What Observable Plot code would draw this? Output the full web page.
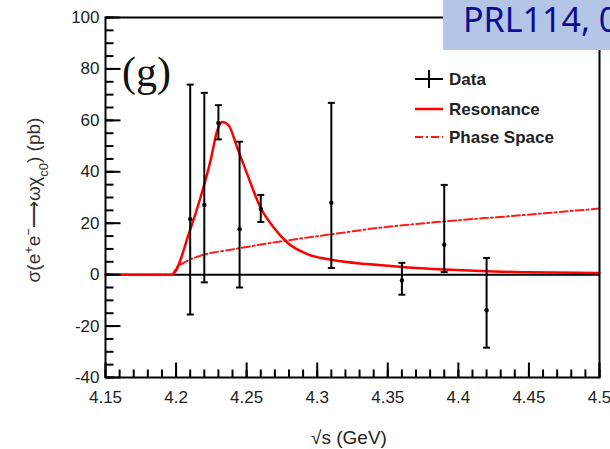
<!DOCTYPE html>
<html><head><meta charset="utf-8">
<script src="https://cdn.jsdelivr.net/npm/d3@7"></script>
<script src="https://cdn.jsdelivr.net/npm/@observablehq/plot@0.6"></script>
<style>
body{margin:0;background:#fff;overflow:hidden;}
#wrap{position:relative;width:610px;height:449px;overflow:hidden;}
#badge{position:absolute;left:443px;top:0;width:220px;height:50px;background:#b4c6e7;color:#0d0d8f;font-family:"Noto Sans";font-size:34px;line-height:38px;padding-left:20px;white-space:nowrap;box-sizing:border-box;}
</style></head>
<body><div id="wrap"><div id="badge">PRL114, 092003</div></div>
<script>
// Measured data points
const energy   = [4.21, 4.22, 4.23, 4.245, 4.26, 4.31, 4.36, 4.39, 4.42];
const sigma    = [21.6, 27.1, 59.0, 17.7, 25.5, 28.0, -2.3, 11.6, -13.8];
const sigmaHi  = [73.9, 70.7, 65.9, 51.7, 31.0, 66.8, 4.6, 34.9, 6.5];
const sigmaLo  = [-15.5, -3.0, 52.6, -5.0, 20.5, 2.6, -7.8, 1.0, -28.4];

// Resonance fit curve
const resX = [4.15, 4.197, 4.2097, 4.2173, 4.2244, 4.2291, 4.2327, 4.2374, 4.2433, 4.2504, 4.2598, 4.2692, 4.2787, 4.2929, 4.3118, 4.3354, 4.36, 4.39, 4.42, 4.45, 4.5];
const resY = [0, 0, 17.0, 30.0, 44.3, 55.9, 59.4, 57.9, 49.4, 39.1, 26.1, 18.3, 12.5, 8.0, 5.6, 4.1, 3.0, 2.0, 1.3, 0.9, 0.6];

// Phase space curve
const phsX = [4.15, 4.197, 4.2, 4.205, 4.217, 4.241, 4.274, 4.31, 4.345, 4.39, 4.44, 4.5];
const phsY = [0, 0, 2.5, 4.5, 7.3, 9.9, 12.9, 15.7, 18.3, 20.7, 22.9, 25.7];

// Axes ticks
const xMajor = [4.15, 4.2, 4.25, 4.3, 4.35, 4.4, 4.45, 4.5];
const xMinor = d3.range(0, 36).map(i => +(4.15 + i * 0.01).toFixed(2));
const yMajor = [-40, -20, 0, 20, 40, 60, 80, 100];
const yMinor = d3.range(-40, 101, 5);

const points = energy.map((e, i) => ({x: e, y: sigma[i], hi: sigmaHi[i], lo: sigmaLo[i]}));
const res = resX.map((x, i) => ({x, y: resY[i]}));
const phs = phsX.map((x, i) => ({x, y: phsY[i]}));

const W = 610, H = 449, mL = 105, mR = 11, mT = 17, mB = 72;

const cap = {draw(ctx, size) { const w = Math.sqrt(size / Math.PI); ctx.moveTo(-w, 0); ctx.lineTo(w, 0); }};
const tickRight = {draw(ctx, size) { const w = Math.sqrt(size / Math.PI); ctx.moveTo(0, 0); ctx.lineTo(w, 0); }};
const tickUp = {draw(ctx, size) { const w = Math.sqrt(size / Math.PI); ctx.moveTo(0, 0); ctx.lineTo(0, -w); }};

const chart = Plot.plot({
  width: W, height: H,
  marginLeft: mL, marginRight: mR, marginTop: mT, marginBottom: mB,
  x: {domain: [4.15, 4.5]},
  y: {domain: [-40, 100]},
  style: {fontFamily: "Liberation Sans, Arial, sans-serif", fontSize: "17px", color: "#222", background: "white"},
  marks: [
    Plot.ruleY([0], {stroke: "black", strokeWidth: 2}),
    Plot.line(phs, {x: "x", y: "y", curve: "monotone-x", stroke: "#ff1a1a", strokeWidth: 2, strokeDasharray: "8,3,2,3"}),
    Plot.line(res, {x: "x", y: "y", curve: "monotone-x", stroke: "#ff0000", strokeWidth: 2.5}),
    Plot.ruleX(points, {x: "x", y1: "lo", y2: "hi", stroke: "black", strokeWidth: 2}),
    Plot.dot(points, {x: "x", y: "hi", symbol: cap, r: 3.5, stroke: "black", strokeWidth: 2}),
    Plot.dot(points, {x: "x", y: "lo", symbol: cap, r: 3.5, stroke: "black", strokeWidth: 2}),
    Plot.dot(points, {x: "x", y: "y", r: 2.2, fill: "black"}),
    Plot.dot(yMinor, {y: d => d, frameAnchor: "left", symbol: tickRight, r: 8, stroke: "black", strokeWidth: 2}),
    Plot.dot(yMajor, {y: d => d, frameAnchor: "left", symbol: tickRight, r: 15, stroke: "black", strokeWidth: 2}),
    Plot.dot(xMinor, {x: d => d, frameAnchor: "bottom", symbol: tickUp, r: 8, stroke: "black", strokeWidth: 2}),
    Plot.dot(xMajor, {x: d => d, frameAnchor: "bottom", symbol: tickUp, r: 15, stroke: "black", strokeWidth: 2}),
    Plot.axisY({ticks: yMajor, tickSize: 0, tickPadding: 6, tickFormat: d => String(d), label: null, fontSize: 17}),
    Plot.axisX({ticks: xMajor, tickSize: 0, tickPadding: 13, tickFormat: d => String(+d.toFixed(2)), label: null, fontSize: 17}),
    Plot.frame({stroke: "black", strokeWidth: 2})
  ]
});

const svg = d3.select(chart);
// panel label
svg.append("text").attr("x", 122).attr("y", 86).attr("text-anchor", "start").attr("font-family", "Liberation Serif, serif").attr("font-size", 42).attr("fill", "#111").text("(g)");

// y label
const yl = svg.append("text").attr("transform", "translate(40,200) rotate(-90)").attr("text-anchor", "middle")
  .attr("font-family", "Liberation Sans, Arial, sans-serif").attr("font-size", 19).attr("fill", "#333");
yl.append("tspan").text("σ(e");
yl.append("tspan").attr("baseline-shift", "super").attr("font-size", 13).text("+");
yl.append("tspan").text("e");
yl.append("tspan").attr("baseline-shift", "super").attr("font-size", 13).text("−");
yl.append("tspan").text("⟶ωχ");
yl.append("tspan").attr("baseline-shift", "sub").attr("font-size", 13).text("c0");
yl.append("tspan").text(") (pb)");

// x label
svg.append("text").attr("x", 349).attr("y", 444).attr("text-anchor", "middle")
  .attr("font-family", "Liberation Sans, Arial, sans-serif").attr("font-size", 19).attr("fill", "#222").text("√s (GeV)");

// legend
const lg = svg.append("g").attr("text-anchor", "start").attr("font-family", "Liberation Sans, Arial, sans-serif").attr("font-size", 17).attr("font-weight", "bold").attr("fill", "#222");
lg.append("line").attr("x1", 415).attr("x2", 443).attr("y1", 79).attr("y2", 79).attr("stroke", "black").attr("stroke-width", 2);
lg.append("line").attr("x1", 429).attr("x2", 429).attr("y1", 70).attr("y2", 88).attr("stroke", "black").attr("stroke-width", 2);
lg.append("text").attr("x", 449).attr("y", 85).text("Data");
lg.append("line").attr("x1", 415).attr("x2", 443).attr("y1", 109).attr("y2", 109).attr("stroke", "#ff0000").attr("stroke-width", 2.5);
lg.append("text").attr("x", 449).attr("y", 115).text("Resonance");
lg.append("line").attr("x1", 415).attr("x2", 443).attr("y1", 137).attr("y2", 137).attr("stroke", "#ff1a1a").attr("stroke-width", 2).attr("stroke-dasharray", "8,3,2,3");
lg.append("text").attr("x", 449).attr("y", 143).text("Phase Space");

document.getElementById("wrap").prepend(chart);
</script>
</body></html>
